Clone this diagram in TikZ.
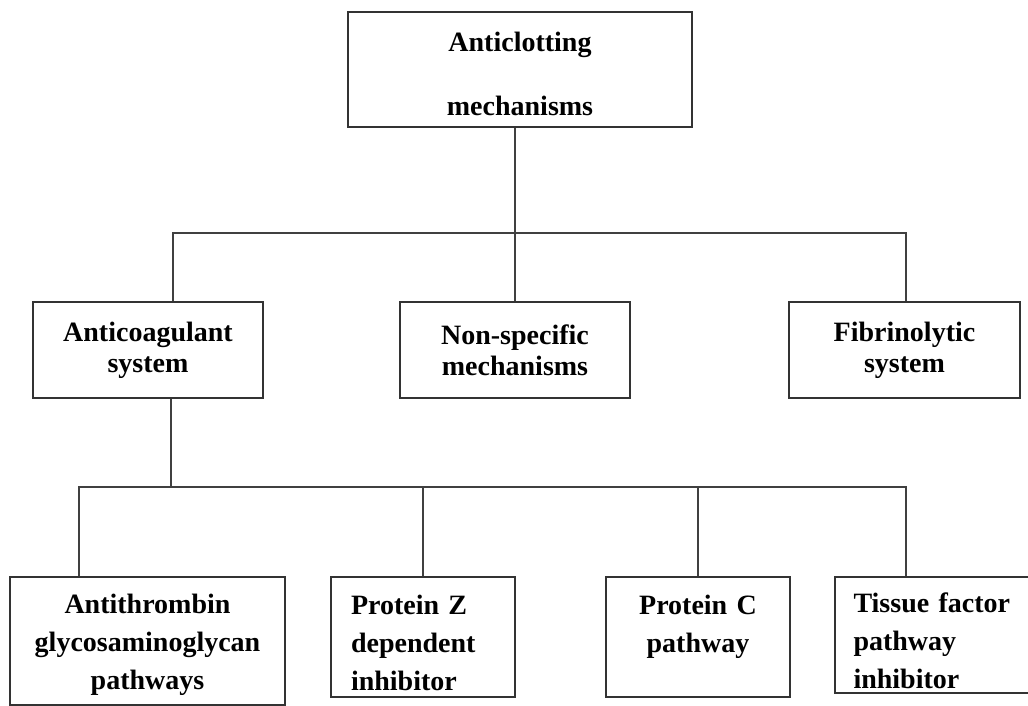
\documentclass[tikz,border=0pt]{standalone}
\usepackage{fontspec}
\setmainfont{Liberation Serif}
\tikzset{
 box/.style={draw=black!80, line width=2.4pt, inner sep=0pt, align=center,
  font=\bfseries\fontsize{28}{38}\selectfont},
 midbox/.style={box, font=\bfseries\fontsize{28}{31}\selectfont,
  minimum height=96},
 lbox/.style={box, align=left},
 wire/.style={draw=black!75, line width=1.8pt}
}
\newcommand{\topgap}[1]{\rule{0pt}{#1}}
\begin{document}
\begin{tikzpicture}[x=1pt,y=-1pt]
 \useasboundingbox (0,0) rectangle (1028,706);
 % top
 \node[box, minimum width=344, minimum height=115, text width=330] (root) at (520,69.5) {\topgap{29pt}Anticlotting\\[26pt]mechanisms};
 % second row
 \node[midbox, minimum width=230, text width=220] (acs) at (148,350) {Anticoagulant\\system};
 \node[midbox, minimum width=230, text width=220] (nsm) at (515,350) {Non-specific\\mechanisms};
 \node[midbox, minimum width=231, text width=221] (fbs) at (904.5,350) {Fibrinolytic\\system};
 % third row
 \node[box, minimum width=275, minimum height=128, text width=265] (atg) at (147.5,641) {\topgap{27pt}Antithrombin\\glycosaminoglycan\\pathways};
 \node[lbox, minimum width=184, minimum height=120, text width=144] (pzi) at (423,637) {\topgap{31pt}Protein Z\\dependent\\inhibitor};
 \node[box, minimum width=184, minimum height=120, text width=174] (pcp) at (698,637) {\topgap{31pt}Protein C\\pathway\\\mbox{}};
 \node[lbox, minimum width=197, minimum height=116, text width=160] (tfp) at (933.5,635) {\topgap{32pt}Tissue factor\\pathway\\inhibitor};
 % buses
 \coordinate (bus1) at (515,233);
 \coordinate (bus2) at (171,487);
 \draw[wire] (bus1 |- root.south) -- (bus1);
 \draw[wire] (acs.north -| 173,0) |- (bus1) -| (fbs.north -| 906,0);
 \draw[wire] (nsm.north) -- (bus1);
 \draw[wire] (bus2 |- acs.south) -- (bus2);
 \draw[wire] (atg.north -| 79,0) |- (bus2) -| (tfp.north -| 906,0);
 \draw[wire] (pzi.north) -- (pzi.north |- bus2);
 \draw[wire] (pcp.north) -- (pcp.north |- bus2);
\end{tikzpicture}
\end{document}
